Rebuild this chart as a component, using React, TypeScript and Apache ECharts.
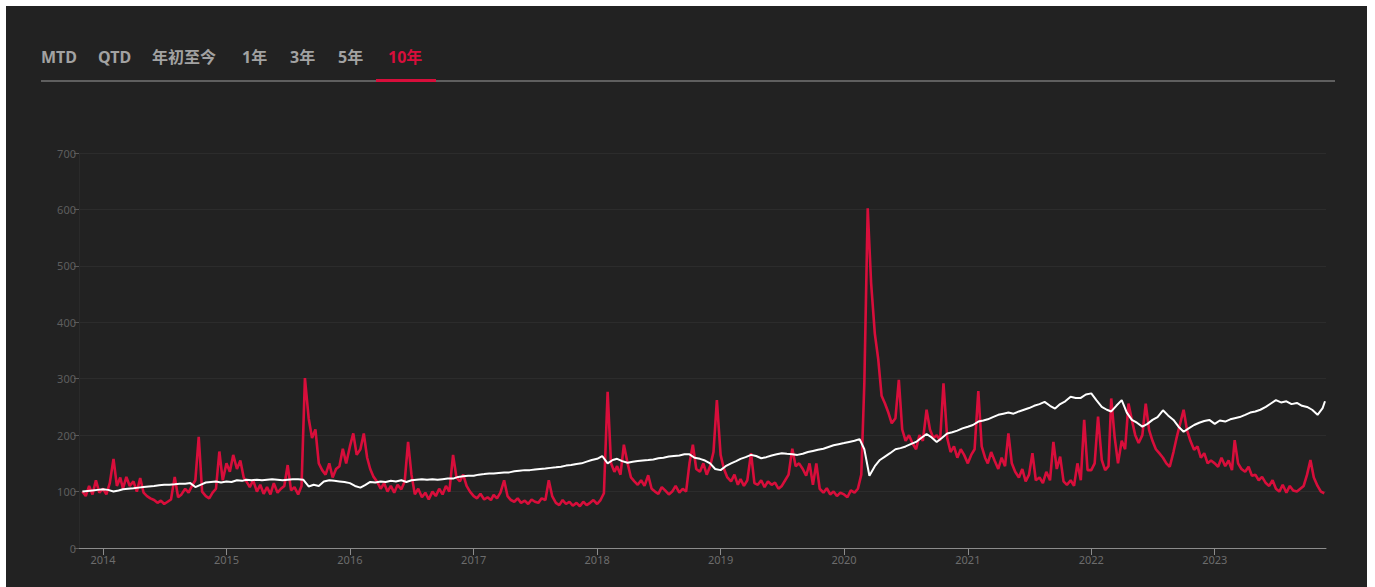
import React, { useEffect, useRef } from "react";
import * as echarts from "echarts";

// ---- text ----
const tabLabels = ["MTD", "QTD", "年初至今", "1年", "3年", "5年", "10年"];
const activeTab = "10年";

// ---- axis ----
const yMax = 700;
const yStep = 100;
const axisStart = "2013-10-22";
const axisEnd = "2023-11-26";

// ---- red series: 3 points per month (1st, 11th, 21st) ----
const red2013 = [100, 92, 110, 95, 120, 98]; // from Nov
const red2014 = [105, 95, 115, 158, 110, 125, 105, 126, 110, 118, 100, 124, 98, 92, 88, 85, 80, 84, 78, 82, 86, 126, 90, 95, 105, 98, 110, 120, 197, 100, 92, 88, 98, 105, 171, 120];
const red2015 = [150, 135, 165, 140, 155, 125, 118, 108, 120, 100, 112, 96, 108, 95, 115, 98, 105, 110, 147, 102, 108, 95, 110, 301, 230, 195, 210, 150, 138, 130, 150, 125, 140, 145, 176, 150];
const red2016 = [180, 203, 165, 175, 203, 160, 140, 126, 118, 105, 115, 100, 110, 98, 112, 104, 118, 188, 130, 95, 105, 90, 98, 86, 100, 92, 105, 95, 110, 100, 165, 125, 118, 130, 110, 100];
const red2017 = [92, 88, 96, 86, 90, 85, 94, 88, 98, 120, 92, 85, 82, 88, 80, 84, 78, 86, 82, 80, 88, 85, 120, 92, 80, 76, 85, 78, 82, 75, 80, 74, 82, 76, 80, 85];
const red2018 = [78, 85, 97, 277, 150, 135, 145, 130, 183, 150, 125, 118, 112, 120, 110, 129, 105, 100, 96, 108, 102, 95, 100, 110, 98, 105, 100, 150, 183, 140, 135, 150, 130, 145, 170, 262];
const red2019 = [165, 140, 125, 118, 130, 112, 122, 110, 120, 168, 115, 112, 120, 108, 118, 112, 116, 105, 110, 120, 130, 176, 145, 150, 140, 128, 150, 112, 150, 105, 98, 106, 95, 100, 92, 98];
const red2020 = [95, 90, 102, 98, 105, 130, 292, 602, 470, 380, 335, 270, 256, 240, 221, 230, 298, 210, 190, 200, 186, 175, 200, 190, 245, 210, 195, 200, 190, 292, 195, 170, 180, 160, 175, 165];
const red2021 = [150, 165, 175, 278, 180, 160, 150, 170, 155, 140, 160, 145, 203, 150, 135, 125, 140, 118, 130, 168, 120, 125, 115, 135, 120, 188, 140, 162, 118, 112, 120, 110, 150, 120, 227, 138];
const red2022 = [138, 150, 233, 156, 138, 145, 265, 197, 150, 190, 175, 256, 227, 200, 186, 200, 256, 209, 190, 175, 168, 160, 150, 144, 170, 197, 221, 245, 209, 190, 174, 180, 160, 168, 150, 155];
const red2023 = [150, 144, 160, 145, 155, 138, 191, 150, 140, 135, 144, 128, 130, 120, 126, 115, 110, 120, 105, 100, 112, 98, 110, 102, 100, 105, 110, 130, 156, 125, 110, 100, 97];

// ---- white series: 2 points per month (1st, 16th) ----
const white2013 = [100, 101, 102, 103]; // from Nov
const white2014 = [104, 103, 100, 102, 104, 105, 106, 107, 108, 109, 110, 111, 112, 112, 113, 114, 114, 115, 108, 112, 116, 117, 118, 116];
const white2015 = [118, 117, 120, 119, 121, 120, 121, 120, 121, 122, 121, 120, 121, 122, 122, 121, 109, 112, 110, 118, 120, 119, 118, 117];
const white2016 = [115, 110, 107, 112, 117, 116, 118, 117, 119, 118, 120, 117, 120, 121, 122, 121, 122, 121, 122, 123, 123, 126, 127, 128];
const white2017 = [128, 130, 131, 132, 132, 133, 134, 134, 136, 137, 138, 138, 139, 140, 141, 142, 143, 144, 146, 147, 149, 150, 153, 156];
const white2018 = [158, 163, 150, 156, 158, 154, 151, 153, 154, 155, 156, 157, 159, 160, 162, 163, 164, 166, 166, 160, 158, 155, 150, 140];
const white2019 = [138, 145, 150, 154, 158, 161, 165, 163, 159, 161, 164, 166, 168, 167, 166, 165, 167, 170, 172, 174, 176, 179, 182, 184];
const white2020 = [186, 188, 190, 193, 175, 128, 145, 156, 162, 168, 175, 177, 180, 184, 188, 195, 202, 196, 188, 195, 203, 205, 208, 212];
const white2021 = [215, 218, 224, 226, 228, 232, 236, 238, 240, 238, 242, 245, 248, 252, 255, 259, 252, 247, 255, 260, 268, 266, 266, 272];
const white2022 = [274, 262, 250, 245, 242, 252, 262, 240, 227, 222, 215, 220, 227, 232, 244, 235, 227, 215, 206, 212, 218, 222, 225, 227];
const white2023 = [220, 226, 224, 228, 230, 232, 236, 240, 242, 245, 250, 256, 262, 258, 260, 255, 257, 252, 250, 245, 236, 248];
const whiteLastDate = "2023-11-23";
const whiteLastValue = 260;

const redDays = [1, 11, 21];
const whiteDays = [1, 16];

function pad(n: number) {
  return n < 10 ? "0" + n : "" + n;
}

function build(year: number, startMonth: number, days: number[], values: number[]) {
  const out: [string, number][] = [];
  values.forEach((v, i) => {
    const m = startMonth + Math.floor(i / days.length);
    const d = days[i % days.length];
    out.push([`${year}-${pad(m)}-${pad(d)}`, v]);
  });
  return out;
}

const redData = [
  ...build(2013, 11, redDays, red2013),
  ...build(2014, 1, redDays, red2014),
  ...build(2015, 1, redDays, red2015),
  ...build(2016, 1, redDays, red2016),
  ...build(2017, 1, redDays, red2017),
  ...build(2018, 1, redDays, red2018),
  ...build(2019, 1, redDays, red2019),
  ...build(2020, 1, redDays, red2020),
  ...build(2021, 1, redDays, red2021),
  ...build(2022, 1, redDays, red2022),
  ...build(2023, 1, redDays, red2023),
];

const whiteData = [
  ...build(2013, 11, whiteDays, white2013),
  ...build(2014, 1, whiteDays, white2014),
  ...build(2015, 1, whiteDays, white2015),
  ...build(2016, 1, whiteDays, white2016),
  ...build(2017, 1, whiteDays, white2017),
  ...build(2018, 1, whiteDays, white2018),
  ...build(2019, 1, whiteDays, white2019),
  ...build(2020, 1, whiteDays, white2020),
  ...build(2021, 1, whiteDays, white2021),
  ...build(2022, 1, whiteDays, white2022),
  ...build(2023, 1, whiteDays, white2023),
  [whiteLastDate, whiteLastValue] as [string, number],
];

// ---- layout (panel coordinates) ----
const tabX = [35, 92, 146, 236, 284, 332, 382];
const tabY = 51;
const RED = "#d80e3b";
const FONT = '"Noto Sans", "Noto Sans CJK SC", Roboto, sans-serif';

export default function App() {
  const ref = useRef<HTMLDivElement>(null);

  useEffect(() => {
    if (!ref.current) return;
    const chart = echarts.init(ref.current, undefined, { renderer: "svg" });

    const tabGraphics: any[] = tabLabels.map((t, i) => ({
      type: "text",
      x: tabX[i],
      y: tabY,
      style: {
        text: t,
        fill: t === activeTab ? RED : "#a2a2a2",
        font: `bold 16px ${FONT}`,
        verticalAlign: "middle",
      },
    }));

    chart.setOption({
      animation: false,
      backgroundColor: "#222222",
      textStyle: { fontFamily: FONT },
      graphic: [
        ...tabGraphics,
        {
          type: "line",
          shape: { x1: 35, y1: 75, x2: 1329, y2: 75 },
          style: { stroke: "#5f5f5f", lineWidth: 2 },
        },
        {
          type: "rect",
          shape: { x: 370, y: 73, width: 60, height: 3 },
          style: { fill: RED },
        },
      ],
      grid: { left: 73, right: 41, top: 147, bottom: 39 },
      xAxis: {
        type: "time",
        min: axisStart,
        max: axisEnd,
        minInterval: 365 * 86400000,
        maxInterval: 366 * 86400000,
        axisLine: { show: true, lineStyle: { color: "#8c8c8c", width: 1 } },
        axisTick: { show: true, length: 7, lineStyle: { color: "#8c8c8c" } },
        axisLabel: {
          formatter: "{yyyy}",
          color: "#6c6c6c",
          fontSize: 11,
          margin: 6,
          showMinLabel: false,
          showMaxLabel: false,
        },
        splitLine: { show: false },
      },
      yAxis: {
        type: "value",
        min: 0,
        max: yMax,
        interval: yStep,
        axisLine: { show: true, lineStyle: { color: "#2a2a2a" } },
        axisTick: { show: true, length: 5, lineStyle: { color: "#5a5a5a" } },
        axisLabel: { color: "#5e5e5e", fontSize: 11, margin: 3 },
        splitLine: { show: true, lineStyle: { color: "#2c2c2c", width: 1 } },
      },
      series: [
        {
          type: "line",
          data: redData,
          symbol: "none",
          lineStyle: { color: RED, width: 2.6 },
          z: 2,
        },
        {
          type: "line",
          data: whiteData,
          symbol: "none",
          lineStyle: { color: "#ffffff", width: 2 },
          z: 3,
        },
      ],
    });

    return () => chart.dispose();
  }, []);

  return (
    <div style={{ position: "fixed", left: 0, top: 0, width: 1375, height: 587, background: "#ffffff" }}>
      <div
        ref={ref}
        style={{ position: "absolute", left: 6, top: 6, width: 1361, height: 581 }}
      />
    </div>
  );
}
